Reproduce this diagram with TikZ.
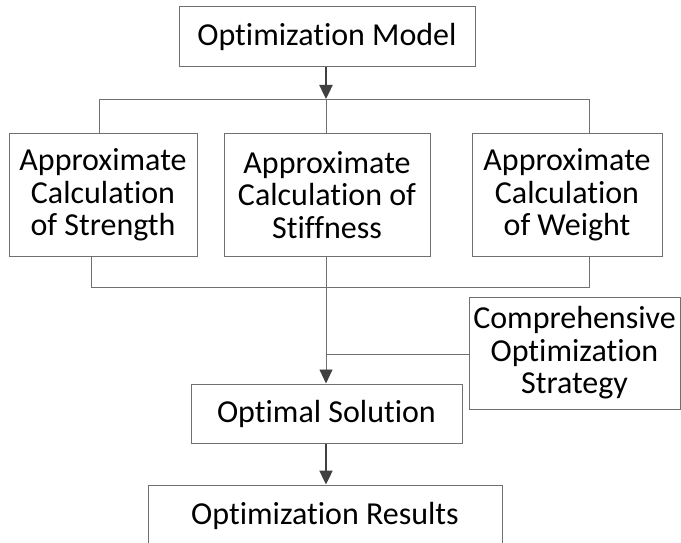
\documentclass[tikz,border=0pt]{standalone}
\usepackage{fontspec}
\setmainfont[Ligatures=NoCommon]{Carlito}
\usetikzlibrary{arrows.meta}
\definecolor{edgegray}{RGB}{112,112,112}
\definecolor{arrowgray}{RGB}{64,64,64}
\begin{document}
\begin{tikzpicture}[x=1pt,y=-1pt,
  box/.style={draw=edgegray,line width=1pt,align=center,inner sep=0pt,
              font=\fontsize{32}{32.5}\selectfont},
  conn/.style={draw=edgegray,line width=0.9pt},
  thickarrow/.style={draw=arrowgray,line width=2.4pt,-{Triangle[width=13pt,length=14pt]}},
  thinarrow/.style={draw=edgegray,line width=0.9pt,-{Triangle[width=13pt,length=14pt,color=arrowgray,fill=arrowgray]}}]
\useasboundingbox (0,0) rectangle (681,543);
\node[box,minimum width=296pt,minimum height=60pt] (model) at (327,37) {Optimization Model};
\node[box,minimum width=188pt,minimum height=122pt] (strength) at (103,195) {Approximate\\Calculation\\of Strength};
\node[box,minimum width=206pt,minimum height=122pt] (stiff) at (327,195) {Approximate\\Calculation of\\Stiffness};
\node[box,minimum width=190pt,minimum height=122pt] (weight) at (567,195) {Approximate\\Calculation\\of Weight};
\node[box,minimum width=211pt,minimum height=112pt] (strat) at (574.5,353) {Comprehensive\\Optimization\\Strategy};
\node[box,minimum width=271pt,minimum height=59pt] (opt) at (326.5,413.5) {Optimal Solution};
\node[box,minimum width=354pt,minimum height=62pt] (res) at (325,516) {Optimization Results};
% top bracket
\coordinate (tm) at (326,99);
\coordinate (tl) at (99,99);
\coordinate (tr) at (589,99);
\draw[conn] (tl |- strength.north) -- (tl) -- (tr) -- (tr |- weight.north);
\draw[conn] (tm) -- (tm |- stiff.north);
\draw[thickarrow] (tm |- model.south) -- (tm);
% bottom bracket
\coordinate (bl) at (91,287);
\coordinate (br) at (589,287);
\draw[conn] (bl |- strength.south) -- (bl) -- (br) -- (br |- weight.south);
\draw[thinarrow] (tm |- stiff.south) -- (tm |- opt.north);
\coordinate (sj) at (326,354);
\draw[conn] (strat.west |- sj) -- (sj);
\draw[thickarrow] (tm |- opt.south) -- (tm |- res.north);
\end{tikzpicture}
\end{document}
